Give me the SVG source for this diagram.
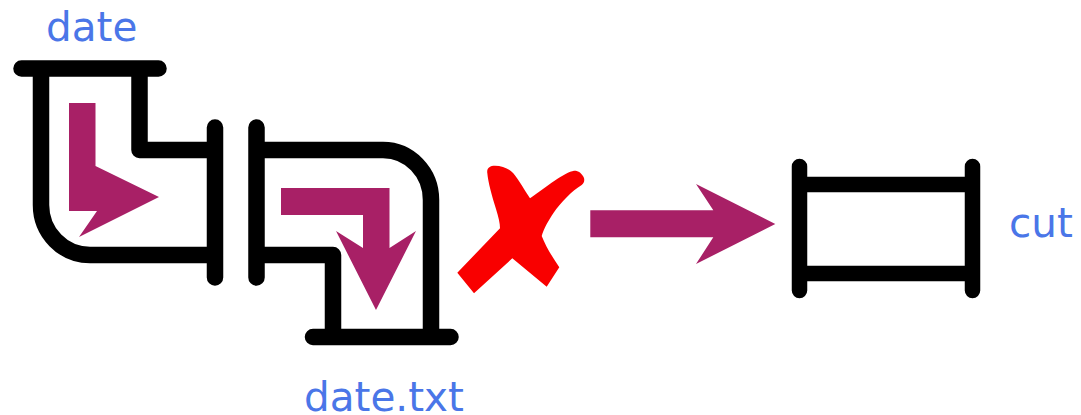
<svg xmlns="http://www.w3.org/2000/svg" width="1081" height="415" viewBox="0 0 1081 415">
<style>
.pipe{fill:none;stroke:#000;stroke-width:16.500;stroke-linecap:round;stroke-linejoin:round}
.flow{fill:#a82066}
.label{font-family:"DejaVu Sans","Noto Sans",sans-serif;font-size:40.500px;fill:#4a76e8}
</style>
<rect width="1081" height="415" fill="#fff"/>
<g id="pipe-date">
<path class="pipe" d="M21.500 68.500H158.500M215 127.500V277.500M41 68.500V205A49 50 0 0 0 90 255H215M139.500 68.500V150H215"/>
<text class="label" x="46" y="41">date</text>
</g>
<g id="pipe-date-txt">
<path class="pipe" d="M256.500 127.500V277.500M313 337H450.500M256.500 150H383A48 50 0 0 1 431 200V337M256.500 255H333V337"/>
<text class="label" x="304" y="410.500">date.txt</text>
</g>
<g id="blocked">
<path fill="#f90000" d="M495 165.700C490 165.700 486.500 168 487.300 173C488 182 492 196 496 209C498.500 217 500 223 500 228.300L457.300 272.700L474 293.300L512.300 258.300L546.700 286.700L559.300 267.300C553 258 546 247 541.700 236C544 228 549 220 553.300 213.300C561 202 572 191 581.700 185C584.500 183 584.500 180 584 178C582 173 578 170.500 574 170.700C565 172 546 187 530 198.300C525 191 519 180 513.300 173.300C509 168.500 502 165.700 495 165.700Z"/>
</g>
<g id="pipe-cut">
<path class="pipe" style="stroke-width:15.500" d="M799.500 166.500V290.500M972.500 166.500V290.500M799.500 184.500H972.500M799.500 273.500H972.500"/>
<text class="label" x="1009" y="237">cut</text>
</g>
<g id="connectors">
<polygon class="flow" points="69,103 95.500,103 95.500,166 159,197 79,237 97,211 69,211"/>
<polygon class="flow" points="281,188 389.500,188 389.500,248 416,231 376,310 336,231 363,248 363,215 281,215"/>
<polygon class="flow" points="590.300,210.300 713.300,210.300 696,184 775.300,224 696,264 713.300,237.300 590.300,237.300"/>
</g>
</svg>
